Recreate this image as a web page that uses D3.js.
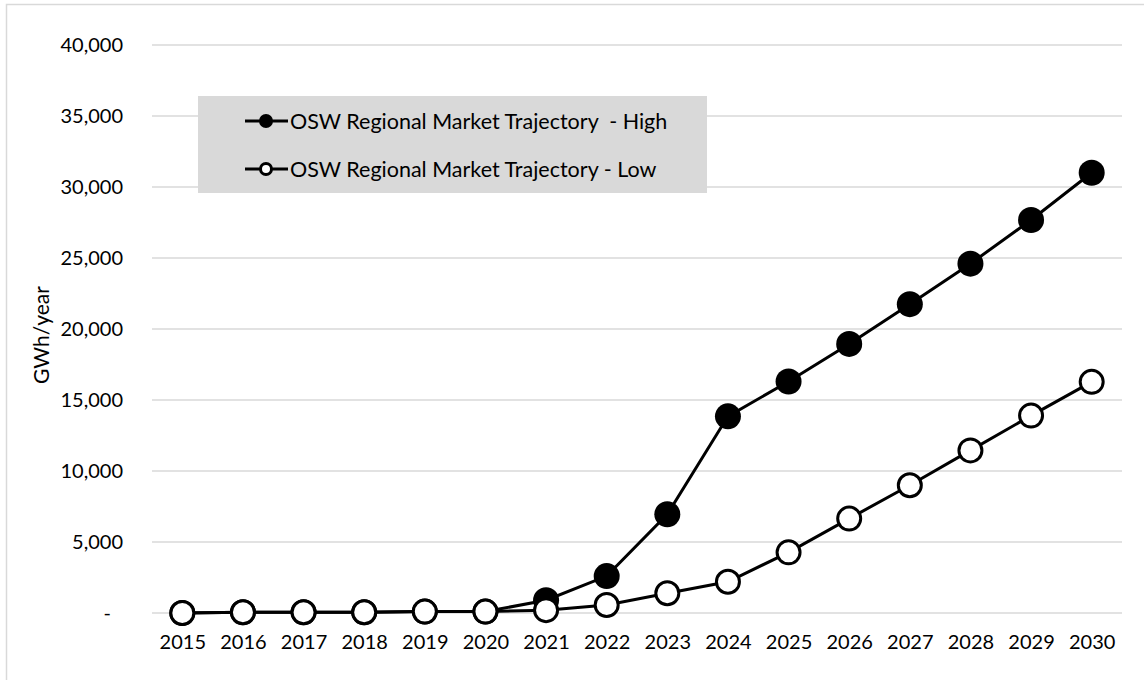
<!DOCTYPE html>
<html>
<head>
<meta charset="utf-8">
<script src="https://cdn.jsdelivr.net/npm/d3@7"></script>
<style>
  body { margin: 0; background: #fff; }
  text { font-family: Lato, "Open Sans", sans-serif; fill: #000; }
</style>
</head>
<body>
<div id="chart"></div>
<script>
// chart data
var years = [2015, 2016, 2017, 2018, 2019, 2020, 2021, 2022, 2023, 2024, 2025, 2026, 2027, 2028, 2029, 2030];
var highValues = [0, 50, 50, 50, 100, 100, 900, 2600, 6950, 13850, 16300, 18950, 21750, 24600, 27680, 31000];
var lowValues = [0, 50, 50, 50, 100, 100, 200, 560, 1390, 2200, 4270, 6650, 9000, 11450, 13900, 16280];
var yTicks = [0, 5000, 10000, 15000, 20000, 25000, 30000, 35000, 40000];
var seriesNames = ["OSW Regional Market Trajectory  - High", "OSW Regional Market Trajectory - Low"];

var svgWidth = 1144;
var svgHeight = 680;
var margin = { top: 45, right: 22, bottom: 67, left: 152 };
var width = svgWidth - margin.left - margin.right;
var height = svgHeight - margin.top - margin.bottom;

var svg = d3.select("#chart")
  .append("svg")
  .attr("width", svgWidth)
  .attr("height", svgHeight);

// chart border (only top and left show in the picture)
svg.append("path")
  .attr("d", `M6.5,${svgHeight} V4.5 H${svgWidth}`)
  .attr("fill", "none")
  .attr("stroke", "#d9d9d9")
  .attr("stroke-width", 1.5);

var chartGroup = svg.append("g")
  .attr("transform", `translate(${margin.left}, ${margin.top})`);

var xScale = d3.scalePoint()
  .domain(years)
  .range([0, width])
  .padding(0.5);

var yScale = d3.scaleLinear()
  .domain([0, 40000])
  .range([height, 0]);

// gridlines
chartGroup.selectAll(".grid")
  .data(yTicks)
  .enter()
  .append("line")
  .attr("x1", 0)
  .attr("x2", width)
  .attr("y1", d => yScale(d))
  .attr("y2", d => yScale(d))
  .attr("stroke", "#d9d9d9")
  .attr("stroke-width", 1.5);

// y axis
var yAxis = d3.axisLeft(yScale)
  .tickValues(yTicks)
  .tickSize(0)
  .tickPadding(29)
  .tickFormat(d => d === 0 ? "-" : d3.format(",")(d));

var yAxisG = chartGroup.append("g").call(yAxis);
yAxisG.select(".domain").remove();
yAxisG.selectAll("text")
  .attr("font-size", "20px")
  .attr("font-family", "Lato, sans-serif")
  .attr("fill", "#000")
  .attr("dx", d => d === 0 ? "-12px" : 0);

// x axis
var xAxis = d3.axisBottom(xScale).tickSize(0).tickPadding(22);
var xAxisG = chartGroup.append("g")
  .attr("transform", `translate(0, ${height})`)
  .call(xAxis);
xAxisG.select(".domain").remove();
xAxisG.selectAll("text")
  .attr("font-size", "20px")
  .attr("font-family", "Lato, sans-serif")
  .attr("fill", "#000");

// y axis title
chartGroup.append("text")
  .attr("transform", "rotate(-90)")
  .attr("x", 0 - height / 2 - 6)
  .attr("y", 49 - margin.left)
  .attr("text-anchor", "middle")
  .attr("font-size", "21px")
  .text("GWh/year");

var line = d3.line()
  .x((d, i) => xScale(years[i]))
  .y(d => yScale(d));

// high series
chartGroup.append("path")
  .datum(highValues)
  .attr("d", line)
  .attr("fill", "none")
  .attr("stroke", "#000")
  .attr("stroke-width", 3);

chartGroup.selectAll(".high")
  .data(highValues)
  .enter()
  .append("circle")
  .attr("cx", (d, i) => xScale(years[i]))
  .attr("cy", d => yScale(d))
  .attr("r", 13)
  .attr("fill", "#000");

// low series drawn on top
chartGroup.append("path")
  .datum(lowValues)
  .attr("d", line)
  .attr("fill", "none")
  .attr("stroke", "#000")
  .attr("stroke-width", 3);

chartGroup.selectAll(".low")
  .data(lowValues)
  .enter()
  .append("circle")
  .attr("cx", (d, i) => xScale(years[i]))
  .attr("cy", d => yScale(d))
  .attr("r", 11.5)
  .attr("fill", "#fff")
  .attr("stroke", "#000")
  .attr("stroke-width", 3);

// legend
var legend = svg.append("g");
legend.append("rect")
  .attr("x", 198)
  .attr("y", 96)
  .attr("width", 509)
  .attr("height", 97)
  .attr("fill", "#d9d9d9");

var legendItems = legend.selectAll(".item")
  .data(seriesNames)
  .enter()
  .append("g")
  .attr("transform", (d, i) => `translate(0, ${121 + i * 48})`);

legendItems.append("line")
  .attr("x1", 245)
  .attr("x2", 288)
  .attr("stroke", "#000")
  .attr("stroke-width", 3);

legendItems.append("circle")
  .attr("cx", 266)
  .attr("r", (d, i) => i === 0 ? 7 : 5.5)
  .attr("fill", (d, i) => i === 0 ? "#000" : "#fff")
  .attr("stroke", "#000")
  .attr("stroke-width", (d, i) => i === 0 ? 0 : 3);

legendItems.append("text")
  .attr("x", 290)
  .attr("dy", "0.35em")
  .attr("font-size", "21.5px")
  .style("white-space", "pre")
  .text(d => d);
</script>
</body>
</html>
